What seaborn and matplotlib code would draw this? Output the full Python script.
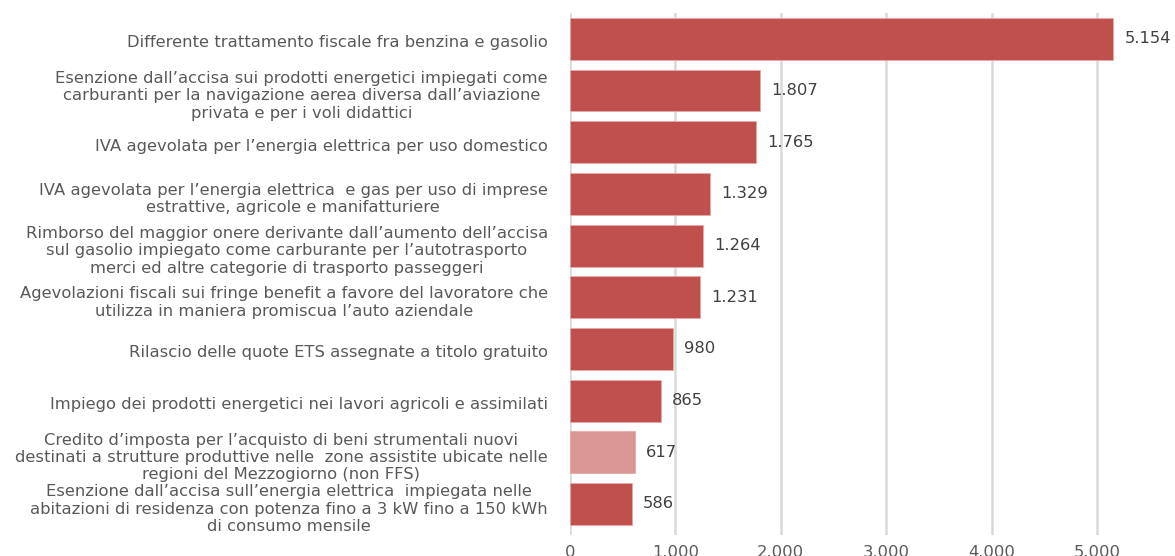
import matplotlib
matplotlib.use("Agg")
import matplotlib.pyplot as plt
import matplotlib.transforms as mtransforms
import seaborn as sns
import pandas as pd

categories = [
    "Differente trattamento fiscale fra benzina e gasolio",
    "Esenzione dall’accisa sui prodotti energetici impiegati come\ncarburanti per la navigazione aerea diversa dall’aviazione\nprivata e per i voli didattici",
    "IVA agevolata per l’energia elettrica per uso domestico",
    "IVA agevolata per l’energia elettrica  e gas per uso di imprese\nestrattive, agricole e manifatturiere",
    "Rimborso del maggior onere derivante dall’aumento dell’accisa\nsul gasolio impiegato come carburante per l’autotrasporto\nmerci ed altre categorie di trasporto passeggeri",
    "Agevolazioni fiscali sui fringe benefit a favore del lavoratore che\nutilizza in maniera promiscua l’auto aziendale",
    "Rilascio delle quote ETS assegnate a titolo gratuito",
    "Impiego dei prodotti energetici nei lavori agricoli e assimilati",
    "Credito d’imposta per l’acquisto di beni strumentali nuovi\ndestinati a strutture produttive nelle  zone assistite ubicate nelle\nregioni del Mezzogiorno (non FFS)",
    "Esenzione dall’accisa sull’energia elettrica  impiegata nelle\nabitazioni di residenza con potenza fino a 3 kW fino a 150 kWh\ndi consumo mensile",
]
values = [5154, 1807, 1765, 1329, 1264, 1231, 980, 865, 617, 586]
bar_colors = ["#C0504D"] * 8 + ["#D99694", "#C0504D"]
x_ticks = [0, 1000, 2000, 3000, 4000, 5000]

def fmt(v):
    return f"{v:,}".replace(",", ".")

df = pd.DataFrame({"cat": categories, "val": values})

sns.set_theme(style="white")
plt.rcParams["font.family"] = ["DejaVu Sans"]
FS = 11.8

fig = plt.figure(figsize=(11.75, 5.56), dpi=100)
W, H = 1175, 556
left, right, top, bottom = 570, 1175, 13, 535
ax = fig.add_axes([left / W, 1 - bottom / H, (right - left) / W, (bottom - top) / H])

sns.barplot(data=df, x="val", y="cat", hue="cat", palette=bar_colors,
            saturation=1, legend=False, width=0.81, ax=ax, zorder=3,
            edgecolor="#E8A9A7", linewidth=0.6)

ax.set_xlim(0, (right - left) / 105.4 * 1000)
ax.set_ylim(9.6, -0.5)
ax.set_xticks(x_ticks)
ax.set_xticklabels([fmt(t) for t in x_ticks], color="#595959", fontsize=FS)
ax.grid(axis="x", color="#D9D9D9", linewidth=1.8, zorder=0)
ax.grid(axis="y", visible=False)
for s in ax.spines.values():
    s.set_visible(False)
ax.set_xlabel("")
ax.set_ylabel("")
ax.tick_params(axis="x", length=0, pad=7)
ax.tick_params(axis="y", length=0, pad=16)

offset = mtransforms.ScaledTranslation(0, -2.5 / 100, fig.dpi_scale_trans)
for lbl in ax.get_yticklabels():
    lbl.set_multialignment("center")
    lbl.set_color("#595959")
    lbl.set_fontsize(FS)
    lbl.set_linespacing(1.2)
    lbl.set_transform(lbl.get_transform() + offset)

for i, v in enumerate(values):
    ax.annotate(fmt(v), xy=(v, i), xytext=(8, 0), textcoords="offset points",
                va="center", ha="left", fontsize=FS, color="#404040")

fig.savefig("out.png", dpi=100)
